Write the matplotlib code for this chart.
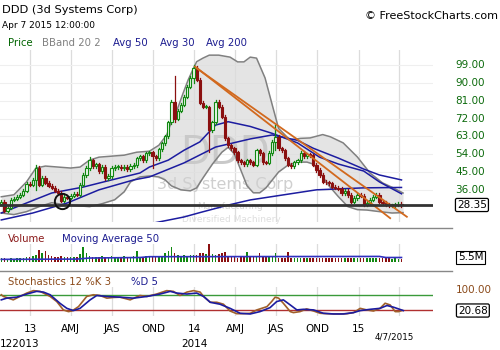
import numpy as np
import pandas as pd
import matplotlib
matplotlib.use("Agg")
import matplotlib.pyplot as plt
import matplotlib.transforms as mtransforms
from matplotlib.lines import Line2D

# ---- data (weekly) ----
start = pd.Timestamp("2012-10-29")
closes = [30.0, 25.5, 27.0, 31.0, 31.5, 32.5, 33.5, 35.5, 39.0, 38.5,
          41.0, 47.0, 38.5, 42.0, 39.5, 38.0, 37.0, 35.5, 34.5, 30.5,
          32.5, 32.0, 33.0, 34.0, 33.5, 38.5, 43.5, 47.0, 51.0, 48.0,
          49.0, 45.5, 47.5, 42.0, 43.0, 47.0, 47.5, 47.5, 47.0, 47.5,
          46.5, 48.0, 48.5, 52.0, 53.0, 51.0, 54.5, 55.0, 53.0, 52.0,
          56.5, 59.5, 63.0, 70.0, 80.5, 72.0, 76.0, 79.0, 83.0, 88.0,
          92.5, 97.5, 91.5, 80.0, 78.0, 78.0, 66.0, 70.0, 80.5, 78.0,
          73.0, 62.0, 58.5, 57.0, 55.0, 51.0, 50.0, 49.0, 51.0, 50.0,
          48.6, 56.0, 54.5, 50.0, 49.6, 54.6, 60.3, 62.8, 57.0, 56.0,
          52.0, 48.6, 48.0, 50.0, 51.0, 54.6, 53.0, 54.0, 53.5, 48.6,
          46.0, 43.5, 40.1, 39.8, 39.3, 37.6, 37.0, 36.5, 34.4, 35.4,
          33.4, 30.0, 31.9, 33.4, 33.0, 28.5, 29.5, 31.0, 32.5, 33.4,
          30.0, 29.4, 28.4, 28.2, 28.3, 28.6, 28.9, 28.35]
first_open = 29.0
long_wicks = {11: (36.0, 48.5), 28: (46.0, 52.7), 48: (47.0, 55.5),
              55: (70.0, 93.3), 61: (90.0, 99.0), 66: (55.0, 78.5),
              87: (56.0, 68.7)}

volumes = [14, 16, 12, 15, 13, 15, 14, 16, 18, 20,
           22, 25, 47, 33, 42, 25, 22, 20, 18, 22,
           20, 19, 18, 20, 19, 30, 58, 33, 22, 20,
           20, 18, 22, 20, 19, 21, 18, 20, 19, 22,
           20, 18, 21, 42, 20, 18, 22, 20, 21, 19,
           24, 22, 33, 42, 55, 35, 25, 22, 25, 24,
           26, 28, 25, 33, 33, 30, 80, 30, 28, 30,
           33, 37, 20, 20, 18, 14, 20, 20, 37, 20,
           20, 20, 33, 23, 23, 23, 23, 33, 17, 17,
           17, 37, 17, 17, 17, 17, 17, 17, 17, 17,
           15, 15, 17, 15, 15, 17, 15, 15, 15, 17,
           15, 15, 17, 15, 15, 15, 15, 15, 17, 15,
           17, 15, 15, 15, 13, 15, 13, 12]
vol_ma_wk = [0, 24, 28, 44, 47, 120, 122, 127]
vol_ma = [10, 11, 15, 17, 20, 21, 17, 17]

bb_up_wk = [0, 4, 8, 11, 14, 18, 22, 25, 28, 31, 35, 39, 43, 47, 50, 52.5,
            54, 56, 57.7, 59.3, 61, 62, 64, 66, 69, 72.6, 75, 77, 79, 81,
            83.7, 86.3, 88, 91.6, 95, 98, 102, 104.4, 108.5, 113, 117, 121,
            124.4, 127.5]
bb_up = [32.5, 33.5, 40, 47, 48, 47.5, 47, 47.5, 51, 52.5, 53, 53.5, 55,
         55.5, 58.5, 63.7, 70.4, 77.3, 84.8, 91.5, 97.4, 100.7, 102.5, 104,
         104, 103, 100.6, 100.6, 103, 102.5, 92.5, 77, 67, 61.2, 62, 62.2,
         63.9, 62.8, 59.7, 52.6, 44.5, 39.5, 37, 34.4]
bb_lo_wk = [0, 4, 8, 12, 16, 20, 24, 28, 32, 36, 39, 41, 44, 47, 50, 52,
            54, 57, 60, 62, 64, 67, 70, 72, 74, 76, 78, 80, 82, 84, 86, 88,
            91, 94, 97, 99, 101, 104, 107, 110, 113, 116, 120, 124, 127.5]
bb_lo = [24.3, 23.5, 25, 27.5, 29.5, 28.5, 28, 27.5, 29, 31, 35, 40, 42.5,
         43, 42.5, 41, 38, 36, 35.5, 37, 42, 49, 55, 57.5, 54, 46, 38, 34.5,
         34.5, 37, 41, 45, 48.5, 50, 50, 49, 45, 38, 32.5, 27.5, 26, 25.8,
         25, 24.3, 24.5]

ma30_wk = [0, 16, 26, 35, 44, 47, 53, 58, 63, 68, 72, 79, 86, 94, 101, 107,
           115, 120, 127]
ma30 = [24.3, 34.4, 37.4, 41, 44.5, 47.5, 51, 56, 60.2, 68.7, 70.4, 68,
        64.5, 59.7, 52.5, 49, 45.5, 40, 34]
ma50_wk = [0, 10, 21, 31, 42, 47, 58, 68, 79, 86, 94, 99, 107, 115, 120, 127]
ma50 = [20.8, 24.3, 29.4, 36, 41, 42.5, 49.6, 57.6, 61.7, 63.7, 61, 57, 52,
        46.5, 43.5, 41]
ma200_wk = [46, 58, 63, 72, 79, 100, 115, 127]
ma200 = [18.5, 22.3, 24.5, 28.3, 30.9, 36, 37, 37.2]

trend1 = ([61.5, 123.4], [98.2, 21.7])
trend2 = ([62.0, 128.7], [97.4, 22.4])
last_price = 28.35
circle_pt = (19.3, 30.5)

stk_wk = [0, 0.7, 3.8, 5.9, 8.1, 10.2, 12.3, 15.5, 17.6, 19.7, 21.3, 22.4,
          24.5, 27.1, 29.2, 31.3, 33.5, 35.6, 37.7, 40.9, 44, 46.2, 49.3,
          52.5, 54.6, 56.7, 58.9, 61, 63.1, 64.2, 66.3, 68.4, 70.5, 72.6,
          74.7, 76.8, 79, 81.1, 84.3, 85.8, 86.9, 88, 89.5, 91.7, 92.7, 94.8,
          96.9, 99.1, 101.2, 103.3, 105.4, 107.5, 109.7, 111.8, 113.9, 116,
          118.1, 120.2, 121.8, 123.4, 125, 126.1, 127.1]
stk_k = [82, 75, 61, 75, 89, 99, 96, 75, 54, 19.5, 12.5, 15, 33, 75, 82, 79,
         68, 71, 72, 61, 79, 75, 85, 99, 96, 79, 93, 99, 93, 75, 51, 51, 43,
         15, 4, 4, 5.6, 19.5, 33, 54, 72, 68, 47, 12.5, 8.4, 12.5, 23.7, 15,
         5.6, 4, 3, 3, 4, 8.4, 26, 19.5, 15, 26, 47, 40, 12.5, 12.5, 16.7]
std_wk = [0, 1.7, 4.9, 8.1, 11.2, 13.4, 15.5, 18.6, 20.8, 22.9, 25, 28.2,
          30.3, 33.5, 37.7, 41.9, 46.2, 50.4, 53.6, 55.7, 58.9, 62, 64.2,
          66.3, 69.4, 72.6, 75.8, 79, 82.1, 85.3, 87.4, 89.5, 91.7, 93.8,
          95.9, 99.1, 102.2, 105.4, 108.6, 111.8, 113.9, 117.1, 120.2, 122.4,
          124.5, 127.6]
std_d = [61, 68, 72, 85, 96, 93, 82, 47, 26, 16.7, 26, 61, 79, 75, 72, 68,
         75, 85, 96, 89, 85, 89, 75, 51, 43, 26, 5.6, 2.8, 12.5, 29, 54, 61,
         40, 19.5, 22, 19.5, 5.6, 2.8, 2.8, 8.4, 16.7, 22, 26, 37.6, 30.6,
         16.7]
last_k = 20.68

quarters = ["2013-01-01", "2013-04-01", "2013-07-01", "2013-10-01",
            "2014-01-01", "2014-04-01", "2014-07-01", "2014-10-01",
            "2015-01-01", "2015-04-01"]
quarter_labels = ["13", "AMJ", "JAS", "OND", "14", "AMJ", "JAS", "OND", "15"]
price_ticks = [99, 90, 81, 72, 63, 54, 45, 36]

# ---- derived positions ----
n = len(closes)
wk = np.arange(n)
opens = [first_open] + closes[:-1]
qx = [(pd.Timestamp(q) - start).days / 7 for q in quarters]

GREEN = "#118811"
RED = "#8b1010"
NAVY = "#1c1ca0"
PX = 433 / 500

fig = plt.figure(figsize=(5, 3.5), dpi=100)
ax = fig.add_axes([0, 1 - 222 / 350, PX, 172 / 350])
axv = fig.add_axes([0, 1 - 262 / 350, PX, 18 / 350])
axs = fig.add_axes([0, 1 - 316 / 350, PX, 29 / 350])
XL = (-0.41, 137.0)

for a in (ax, axv, axs):
    a.set_xlim(*XL)
    for s in a.spines.values():
        s.set_visible(False)
    a.set_xticks([])
    a.set_yticks([])
    for x in qx:
        a.axvline(x, color="#dcdcdc", lw=0.9, zorder=0)

# main panel
ax.set_ylim(19.76, 106.6)
for p in price_ticks:
    ax.axhline(p, color="#efefef", lw=0.8, zorder=0)

xu = np.linspace(0, 127.5, 300)
up_i = np.interp(xu, bb_up_wk, bb_up)
lo_i = np.interp(xu, bb_lo_wk, bb_lo)
ax.fill_between(xu, lo_i, up_i, color="#dcdcdc", alpha=0.75, lw=0, zorder=1)
ax.plot(bb_up_wk, bb_up, color="#808080", lw=1.1, zorder=2)
ax.plot(bb_lo_wk, bb_lo, color="#808080", lw=1.1, zorder=2)

ax.text(71, 54.5, "DDD", fontsize=28, color="#c9c9c9", ha="center", va="center", zorder=1.5)
ax.text(71, 38.5, "3d Systems Corp", fontsize=11.5, color="#cfcfcf", ha="center", va="center", zorder=1.5)
ax.text(72.5, 27.6, "Manufacturing", fontsize=6.5, color="#d4d4d4", ha="center", va="center", zorder=1.5)
ax.text(73, 20.8, "Diversified Machinery", fontsize=6.5, color="#dedede", ha="center", va="center", zorder=1.5)

ax.plot(ma30_wk, ma30, color=NAVY, lw=1.1, zorder=3)
ax.plot(ma50_wk, ma50, color=NAVY, lw=1.1, zorder=3)
ax.plot(ma200_wk, ma200, color=NAVY, lw=1.1, zorder=3)

for i in range(n):
    o, c = opens[i], closes[i]
    hi, lo = max(o, c) + 0.8, min(o, c) - 0.8
    if i in long_wicks:
        lo, hi = long_wicks[i]
    up = c >= o
    col = GREEN if up else RED
    ax.plot([i, i], [lo, hi], color=col, lw=0.9, zorder=4)
    ax.bar(i, max(abs(c - o), 0.4), bottom=min(o, c), width=0.72,
           facecolor="#e8f8e8" if up else RED, edgecolor=col, lw=0.8, zorder=5)

ax.plot(*trend1, color="#d2691e", lw=1.3, zorder=6)
ax.plot(*trend2, color="#d2691e", lw=1.3, zorder=6)
ax.axhline(last_price, color="#333333", lw=2, zorder=6)
ax.plot(*circle_pt, marker="o", ms=11, mfc="none", mec="#111111", mew=1.4, zorder=7)

tr = mtransforms.blended_transform_factory(ax.transAxes, ax.transData)
for p in price_ticks:
    ax.text(455 / 433, p, f"{p:.2f}", transform=tr, color="#0c6a0c",
            fontsize=7.5, va="center", ha="left")
ax.text(457 / 433, last_price, f"{last_price:.2f}", transform=tr, color="black",
        fontsize=7.5, va="center", ha="left",
        bbox=dict(boxstyle="round,pad=0.15", fc="white", ec="black", lw=0.9))

# volume panel
axv.set_ylim(0, 68)
vcol = [GREEN if closes[i] >= opens[i] else RED for i in range(n)]
axv.bar(wk, volumes, width=0.5, color=vcol, zorder=2)
axv.plot(vol_ma_wk, vol_ma, color="#3030c0", lw=1.2, zorder=3)
trv = mtransforms.blended_transform_factory(axv.transAxes, axv.transData)
axv.text(458 / 433, 18, "5.5M", transform=trv, fontsize=7.5, va="center", ha="left",
         bbox=dict(boxstyle="square,pad=0.15", fc="white", ec="black", lw=0.8))

# stochastics panel
axs.set_ylim(-5.6, 114)
axs.axhline(80, color="#3a9a3a", lw=1, zorder=1)
axs.axhline(20, color="#b03030", lw=1, zorder=1)
axs.plot(stk_wk, stk_k, color="#a0602a", lw=1.2, zorder=2)
axs.plot(std_wk, std_d, color=NAVY, lw=1.2, zorder=3)
trs = mtransforms.blended_transform_factory(axs.transAxes, axs.transData)
axs.text(456 / 433, 100, "100.00", transform=trs, color="#8b4a1a", fontsize=7.5,
         va="center", ha="left")
axs.text(458 / 433, 17, f"{last_k:.2f}", transform=trs, color="black", fontsize=7.5,
         va="center", ha="left",
         bbox=dict(boxstyle="round,pad=0.15", fc="white", ec="black", lw=0.9))

# separators
for yp in (228, 271):
    fig.add_artist(Line2D([0, 452 / 500], [1 - yp / 350] * 2, color="#888888", lw=1))

# header texts
fig.text(2 / 500, 1 - 10 / 350, "DDD (3d Systems Corp)", fontsize=8.2, va="center")
fig.text(2 / 500, 1 - 25 / 350, "Apr 7 2015 12:00:00", fontsize=6.5, va="center")
fig.text(498 / 500, 1 - 16 / 350, "\u00a9 FreeStockCharts.com", fontsize=8.0,
         va="center", ha="right")
legend = [("Price", "#006400", 8), ("BBand 20 2", "#808080", 42),
          ("Avg 50", "#1c1c90", 113), ("Avg 30", "#1c1c90", 160),
          ("Avg 200", "#1c1c90", 206)]
for txt, col, xp in legend:
    fig.text(xp / 500, 1 - 43 / 350, txt, color=col, fontsize=7.3, va="center")
fig.text(8 / 500, 1 - 239 / 350, "Volume", color="#8b1a1a", fontsize=7.3, va="center")
fig.text(62 / 500, 1 - 239 / 350, "Moving Average 50", color="#1c1c90", fontsize=7.3,
         va="center")
fig.text(8 / 500, 1 - 282 / 350, "Stochastics 12 %K 3", color="#8b4a1a", fontsize=7.3,
         va="center")
fig.text(131 / 500, 1 - 282 / 350, "%D 5", color="#1c1c90", fontsize=7.3, va="center")

# bottom labels
trb = mtransforms.blended_transform_factory(axs.transData, fig.transFigure)
for x, lab in zip(qx, quarter_labels):
    axs.text(x, 1 - 329 / 350, lab, transform=trb, fontsize=7.5, ha="center", va="center")
axs.text(n - 3.3, 1 - 337 / 350, "4/7/2015", transform=trb, fontsize=6.3, ha="center",
         va="center")
fig.text(0, 1 - 344 / 350, "122013", fontsize=7.5, va="center")
axs.text(qx[4], 1 - 344 / 350, "2014", transform=trb, fontsize=7.5, ha="center",
         va="center")

fig.savefig("out.png", dpi=100, facecolor="white")
